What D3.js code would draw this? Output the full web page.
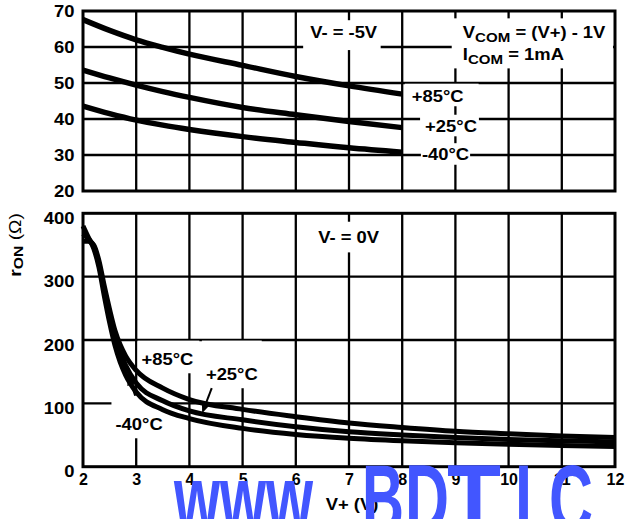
<!DOCTYPE html>
<html><head><meta charset="utf-8">
<script src="https://cdn.jsdelivr.net/npm/d3@7"></script>
<style>
html,body{margin:0;padding:0;background:#fff;}
svg{display:block;}
text{font-family:"Liberation Sans",Arial,Helvetica,sans-serif;font-weight:bold;fill:#000;}
</style>
</head><body>
<svg id="c" width="626" height="519"></svg>
<script>
// ---------- data ----------
const xTicks = [2,3,4,5,6,7,8,9,10,11,12];
const topYTicks = [20,30,40,50,60,70];
const botYTicks = [0,100,200,300,400];

// top panel, V- = -5V
const topX   = [2, 2.5, 3, 3.5, 4, 5, 6, 7, 8];
const top85  = [67.6, 64.6, 62.0, 59.9, 58.0, 54.9, 51.8, 49.2, 46.9];
const top25  = [53.6, 51.4, 49.4, 47.6, 46.0, 43.2, 41.2, 39.3, 37.6];
const topM40 = [43.6, 41.5, 39.7, 38.3, 37.1, 35.1, 33.5, 32.0, 30.8];

// bottom panel, V- = 0V
const botX   = [2, 2.1, 2.2, 2.3, 2.4, 2.5, 2.6, 2.7, 2.8, 3, 3.5, 4, 5, 6, 7, 8, 9, 10, 11, 12];
const bot85  = [356, 356, 350, 325, 285, 248, 215, 192, 175, 152, 124, 106, 90.5, 79, 69, 62, 56, 52, 48.5, 46];
const bot25  = [368, 360, 348, 320, 278, 238, 205, 180, 160, 132, 104, 88, 74, 63, 55, 50, 46, 43, 41, 39];
const botM40 = [380, 362, 345, 315, 270, 228, 192, 165, 145, 118, 90, 76, 60.5, 51, 45, 41, 38, 35.5, 33.5, 32];

const seriesNames = ["+85°C", "+25°C", "-40°C"];

// ---------- layout ----------
const svg = d3.select("#c");
const x = d3.scaleLinear().domain([2,12]).range([83,615]);
const yTop = d3.scaleLinear().domain([20,70]).range([191,11]);
const yBot = d3.scaleLinear().domain([0,400]).range([466.7,213.3]);
const SX = 1.15;

const gridLayer = svg.append("g");
const boxLayer = svg.append("g");
const curveLayer = svg.append("g");
const frameLayer = svg.append("g");
const textLayer = svg.append("g");

function grid(y, yTicks) {
  const [y0, y1] = y.range();
  gridLayer.selectAll(null).data(xTicks.slice(1,-1)).enter().append("line")
    .attr("x1", d => x(d)).attr("x2", d => x(d)).attr("y1", y0).attr("y2", y1)
    .attr("stroke", "#000").attr("stroke-width", 2.3);
  gridLayer.selectAll(null).data(yTicks.slice(1,-1)).enter().append("line")
    .attr("x1", x.range()[0]).attr("x2", x.range()[1]).attr("y1", d => y(d)).attr("y2", d => y(d))
    .attr("stroke", "#000").attr("stroke-width", 2.3);
  frameLayer.append("rect")
    .attr("x", x.range()[0]).attr("y", y1).attr("width", x.range()[1]-x.range()[0]).attr("height", y0-y1)
    .attr("fill", "none").attr("stroke", "#000").attr("stroke-width", 3);
}
grid(yTop, topYTicks);
grid(yBot, botYTicks);

function curves(xs, ys, y, w) {
  const line = d3.line().x((d,i) => x(xs[i])).y(d => y(d)).curve(d3.curveMonotoneX);
  ys.forEach(s => curveLayer.append("path").attr("d", line(s))
    .attr("fill", "none").attr("stroke", "#000").attr("stroke-width", w)
    .attr("stroke-linejoin", "round"));
}
curves(topX, [top85, top25, topM40], yTop, 5.5);
curves(botX, [bot85, bot25, botM40], yBot, 5);

// ---------- axes ----------
function styleTicks(g, dyExtra) {
  g.select(".domain").remove();
  g.selectAll("text").attr("font-size", 16).attr("font-family", null)
    .attr("transform", `scale(${SX},1)`);
}
const axTop = svg.append("g").attr("transform", `translate(${x.range()[0]},0)`)
  .call(d3.axisLeft(yTop).tickValues(topYTicks).tickSize(0).tickPadding(7.4).tickFormat(d3.format("d")));
styleTicks(axTop);
const axBot = svg.append("g").attr("transform", `translate(${x.range()[0]},0)`)
  .call(d3.axisLeft(yBot).tickValues(botYTicks).tickSize(0).tickPadding(7.4).tickFormat(d3.format("d")));
styleTicks(axBot);
axBot.selectAll("text").attr("y", 5);
const axX = svg.append("g").attr("transform", `translate(0,${yBot.range()[0]})`)
  .call(d3.axisBottom(x).tickValues(xTicks).tickSize(0).tickPadding(7).tickFormat(d3.format("d")));
axX.select(".domain").remove();
axX.selectAll("text").attr("font-size", 16).attr("font-family", null);

// ---------- labels ----------
// parts: [text, kind] kind: "n" normal, "s" subscript, "l" light weight
function label(px, py, parts, pad, opts = {}) {
  const size = opts.size || 16;
  const tr = opts.transform || `translate(${px},${py}) scale(${SX},1)`;
  const grp = textLayer.append("g").attr("transform", tr);
  const t = grp.append("text").attr("font-size", size).attr("text-anchor", opts.anchor || "start");
  let shifted = 0;
  parts.forEach(([s, k]) => {
    const ts = t.append("tspan").text(s);
    if (k === "s") {
      const dy = opts.subDy != null ? opts.subDy : 4;
      ts.attr("font-size", size*0.82).attr("dy", dy - shifted); shifted = dy;
    } else {
      if (shifted) { ts.attr("dy", -shifted); shifted = 0; }
      if (k === "l") ts.attr("font-weight", "normal");
    }
  });
  if (pad) {
    const b = t.node().getBBox();
    boxLayer.append("rect").attr("transform", tr)
      .attr("x", b.x - pad[0]/SX).attr("y", b.y - pad[2])
      .attr("width", b.width + (pad[0]+pad[1])/SX).attr("height", b.height + pad[2] + pad[3])
      .attr("fill", "#fff");
  }
  return grp;
}

// top panel annotations [l, r, t, b] paddings
label(x(6.27), yTop(62.4), [["V- = -5V","n"]], [7,3,3.3,8]);
label(x(9.14), yTop(62.5), [["V","n"],["COM","s"],[" = (V+) - 1V","n"]], [11,2,4.8,4]);
label(x(9.14), yTop(56.5), [["I","n"],["COM","s"],[" = 1mA","n"]], [11,49,1,2]);
label(x(8.18), yTop(44.85), [[seriesNames[0],"n"]], [7,15,3,1]);
label(x(8.43), yTop(36.5), [[seriesNames[1],"n"]], [5,2,2,1]);
label(x(8.37), yTop(28.6), [[seriesNames[2],"n"]], [1,1,2,1]);

// bottom panel annotations
label(x(6.42), yBot(353), [["V- = 0V","n"]], [4,4,6.5,5.6]);
label(x(3.10), yBot(160.6), [[seriesNames[0],"n"]], [4,6,9.5,4.6]);
label(x(4.31), yBot(137), [[seriesNames[1],"n"]], [4,4,24.5,4.6]);
label(x(2.61), yBot(58), [[seriesNames[2],"n"]], [4,4,20,4.6]);

// arrows (data coords)
const arrows = [
  {from: [4.42, 124], to: [4.24, 84.5]},
  {from: [2.98, 112], to: [2.85, 146]}
];
arrows.forEach(a => {
  const x0 = x(a.from[0]), y0 = yBot(a.from[1]), x1 = x(a.to[0]), y1 = yBot(a.to[1]);
  const ang = Math.atan2(y1-y0, x1-x0);
  const L = 11, W = 4.5;
  const bx = x1 - L*Math.cos(ang), by = y1 - L*Math.sin(ang);
  textLayer.append("line").attr("x1", x0).attr("y1", y0).attr("x2", bx).attr("y2", by)
    .attr("stroke", "#000").attr("stroke-width", 2);
  textLayer.append("path")
    .attr("d", `M${x1},${y1}L${bx - W*Math.sin(ang)},${by + W*Math.cos(ang)}L${bx + W*Math.sin(ang)},${by - W*Math.cos(ang)}Z`)
    .attr("fill", "#000");
});

// axis titles
label(0, 0, [["r","n"],["ON","s"],[" (Ω)","l"]], null,
  {anchor: "middle", subDy: 2, transform: `translate(20.5,245) rotate(-90) scale(1.2,1)`});
label(352, 510, [["V+ (V)","n"]], null, {anchor: "middle", transform: `translate(352,510) scale(${SX},1)`});

// watermark
const wm = svg.append("g").attr("fill", "#4256ff");
const wmLetters = [
  {c:"w", x:174, w:46}, {c:"w", x:220, w:46}, {c:"w", x:266, w:47},
  {c:"B", x:362, w:42}, {c:"D", x:405, w:44}, {c:"T", x:447, w:54},
  {c:"I", x:515, w:17}, {c:"C", x:549, w:44}
];
wmLetters.forEach(l => {
  wm.append("text").attr("x", l.x).attr("y", 531.7).attr("font-size", 96)
    .attr("font-weight", "normal").style("fill", "#4256ff")
    .attr("textLength", l.w).attr("lengthAdjust", "spacingAndGlyphs").text(l.c);
});
</script>
</body></html>
